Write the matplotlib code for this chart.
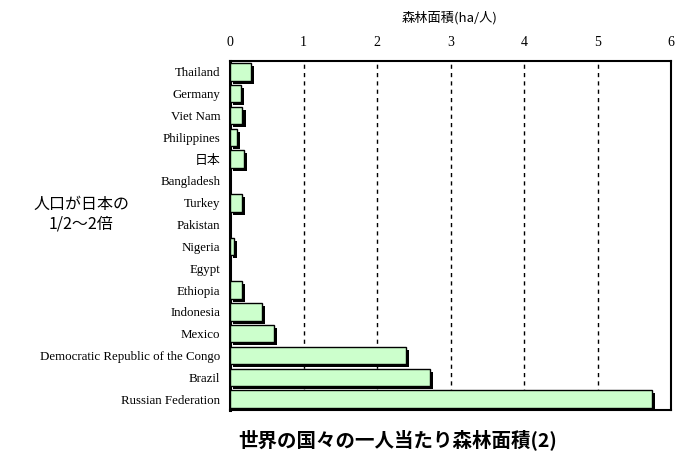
import matplotlib; matplotlib.use("Agg")
import matplotlib.pyplot as plt
import matplotlib.patheffects as pe
import numpy as np

countries = ["Thailand", "Germany", "Viet Nam", "Philippines", "日本", "Bangladesh",
             "Turkey", "Pakistan", "Nigeria", "Egypt", "Ethiopia", "Indonesia",
             "Mexico", "Democratic Republic of the Congo", "Brazil", "Russian Federation"]
forest_per_capita = [0.29, 0.145, 0.17, 0.09, 0.195, 0.0, 0.16, 0.0, 0.06, 0.0,
                     0.16, 0.43, 0.60, 2.40, 2.72, 5.74]
xticks = [0, 1, 2, 3, 4, 5, 6]

FONT = ["Liberation Serif", "Noto Sans CJK JP"]
JP = ["Noto Sans CJK JP", "DejaVu Sans"]

fig = plt.figure(figsize=(6.94, 4.61), dpi=100)
ax = fig.add_axes([230/694, 1 - 410/461, 441/694, 349/461])

y = np.arange(len(countries))
shadow = [pe.SimplePatchShadow(offset=(2.2, -2.2), shadow_rgbFace="black", alpha=1), pe.Normal()]
for yi, v in zip(y, forest_per_capita):
    if v > 0:
        ax.barh(yi, v, height=0.8, color="#ccffcc", edgecolor="black", lw=1,
                path_effects=shadow, zorder=3)

ax.set_xlim(0, 6)
ax.set_ylim(len(countries) - 0.5, -0.5)
ax.set_xticks(xticks)
ax.set_xticklabels([str(t) for t in xticks], fontsize=10, family=FONT)
ax.xaxis.tick_top()
ax.set_yticks(y)
ax.set_yticklabels(countries, fontsize=9.3, family=FONT)
ax.tick_params(axis="y", length=0, pad=7)
ax.tick_params(axis="x", length=0, pad=9)
for x in xticks[1:-1]:
    ax.axvline(x, color="black", ls=(0, (3, 3)), lw=1, zorder=1)
for s in ax.spines.values():
    s.set_linewidth(1.5)
ax.spines["left"].set_linewidth(2.2)

fig.text(450/694, 1 - 18/461, "森林面積(ha/人)", ha="center", va="center",
         fontsize=9.5, family=JP)
fig.text(81/694, 1 - 214/461, "人口が日本の\n1/2～2倍", ha="center", va="center",
         fontsize=11.5, family=JP, linespacing=1.2)
fig.text(398/694, 1 - 440/461, "世界の国々の一人当たり森林面積(2)", ha="center", va="center",
         fontsize=14, fontweight="bold", family=JP)

fig.savefig("out.png", dpi=100)
